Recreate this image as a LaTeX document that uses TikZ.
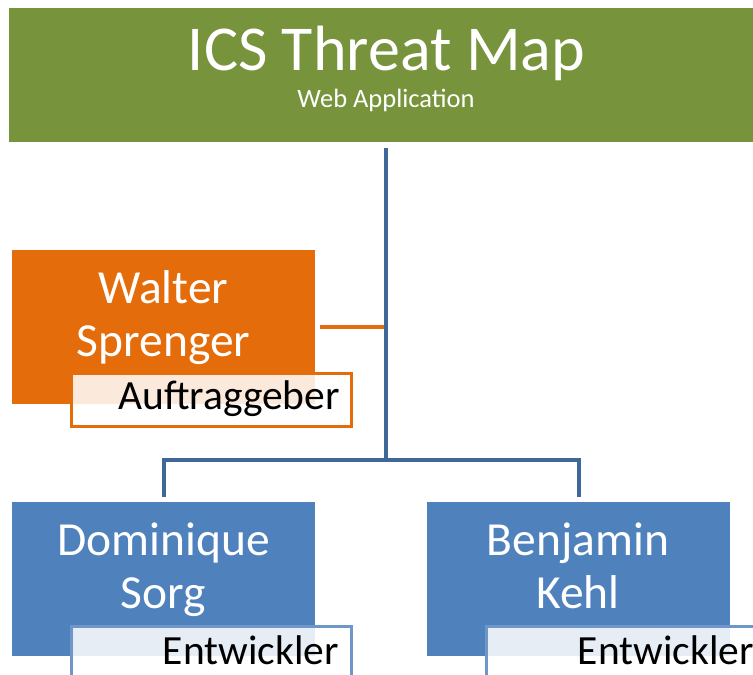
\documentclass[tikz,border=0pt]{standalone}
\usepackage{fontspec}
\setmainfont{Carlito}
\definecolor{tgreen}{HTML}{77933C}
\definecolor{torange}{HTML}{E46C0A}
\definecolor{tblue}{HTML}{4F81BD}
\definecolor{tlblue}{HTML}{6E96C8}
\definecolor{tconn}{HTML}{3F6797}
\begin{document}
\begin{tikzpicture}[x=1pt,y=-1pt,
  titlebox/.style={fill=tgreen, anchor=north west, inner sep=0pt, minimum width=760pt, minimum height=134pt},
  titletext/.style={text=white, anchor=base, inner sep=0pt, font=\fontsize{64}{64}\selectfont},
  subtext/.style={text=white, anchor=base, inner sep=0pt, font=\fontsize{26.5}{26.5}\selectfont},
  personbox/.style={fill=#1, anchor=north west, inner sep=0pt, minimum width=303pt, minimum height=154pt},
  rolebox/.style={draw=#1, line width=3.2pt, fill=white, fill opacity=0.86, anchor=north west, inner sep=0pt, minimum width=280pt},
  nametext/.style={text=white, anchor=base, inner sep=0pt, font=\fontsize{47.5}{47.5}\selectfont},
  roletext/.style={text=black, anchor=base east, inner sep=0pt, font=\fontsize{41.5}{41.5}\selectfont},
  bconn/.style={draw=tconn, line width=4pt},
  oconn/.style={draw=torange, line width=3.5pt}]
\useasboundingbox (0,0) rectangle (753,675);

% title
\node[titlebox] (title) at (9,8) {};
\node[titletext] (ttl) at (386.5,70) {ICS Threat Map};
\node[subtext] (sub) at (386,107) {Web Application};

% junction
\coordinate (j) at (386,460);

% Walter
\node[personbox=torange] (wal) at (12,250) {};
\node[rolebox=torange, minimum height=53pt] (walr) at (70,372) {};
\node[nametext] (wal1) at (163.5,303) {Walter};
\node[nametext] (wal2) at (163.5,356) {Sprenger};
\node[roletext] (walt) at (340,409) {Auftraggeber};

% Dominique
\node[personbox=tblue] (dom) at (12,502) {};
\node[rolebox=tlblue, minimum height=80pt] (domr) at (70,625) {};
\node[nametext] (dom1) at (163.5,555) {Dominique};
\node[nametext] (dom2) at (163.5,608) {Sorg};
\node[roletext] (domt) at (339,664) {Entwickler};

% Benjamin
\node[personbox=tblue] (ben) at (427,502) {};
\node[rolebox=tlblue, minimum height=80pt] (benr) at (485,625) {};
\node[nametext] (ben1) at (578,555) {Benjamin};
\node[nametext] (ben2) at (578,608) {Kehl};
\node[roletext] (bent) at (754,664) {Entwickler};

% connectors
\draw[oconn, shorten <=5pt] (wal.east) -- (wal.east -| j);
\draw[bconn] (title.south -| j) ++(0,6) -- (j);
\draw[bconn, shorten >=5pt] (j) -| (dom.north);
\draw[bconn, shorten >=5pt] (j) -| (ben.north);
\end{tikzpicture}
\end{document}
